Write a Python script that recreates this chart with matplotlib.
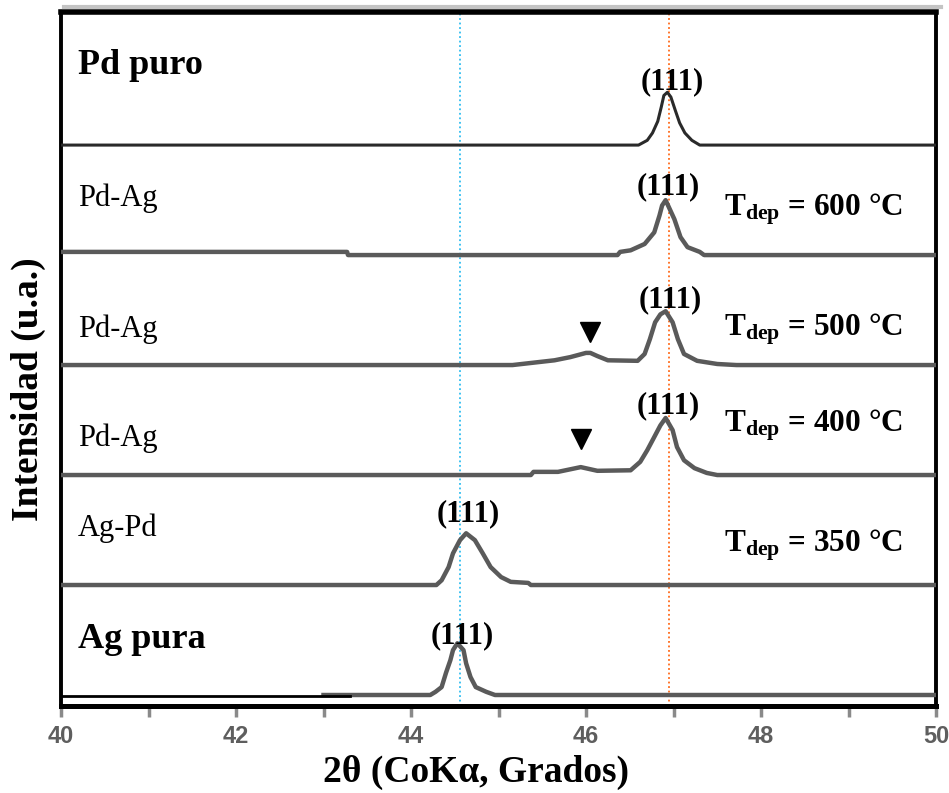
import matplotlib
matplotlib.use("Agg")
import matplotlib.pyplot as plt
from matplotlib.lines import Line2D

plt.rcParams['font.family'] = ['Liberation Serif', 'DejaVu Serif']
plt.rcParams['font.weight'] = 'bold'
plt.rcParams['mathtext.fontset'] = 'custom'
plt.rcParams['mathtext.rm'] = 'Liberation Serif'
plt.rcParams['mathtext.bf'] = 'Liberation Serif:bold'
plt.rcParams['mathtext.it'] = 'Liberation Serif:italic'

# --- XRD scans, 2theta (deg) vs intensity (a.u.) ---
pd_x = [40.0, 46.60, 46.70, 46.76, 46.82, 46.86, 46.89, 46.93, 46.97, 47.02, 47.07, 47.13, 47.21, 47.30, 50.0]
pd_y = [0, 0, 9, 23, 45, 72, 94, 100, 91, 66, 42, 23, 9, 0, 0]

pdag600_x = [40.0, 43.27, 43.28, 46.36, 46.39, 46.51, 46.67, 46.78, 46.84, 46.87, 46.91, 47.01, 47.08, 47.16, 47.30, 47.35, 50.0]
pdag600_y = [6, 6, 0, 0, 6, 9, 21, 43, 75, 94, 104, 68, 34, 15, 6, 0, 0]

pdag500_x = [40.0, 45.16, 45.64, 45.82, 46.00, 46.05, 46.13, 46.25, 46.59, 46.67, 46.73, 46.79, 46.85, 46.91, 46.99, 47.05, 47.12, 47.27, 47.50, 47.72, 50.0]
pdag500_y = [0, 0, 9, 15, 23, 23, 17, 9, 8, 21, 49, 81, 96, 102, 81, 49, 21, 8, 2, 0, 0]

pdag400_x = [40.0, 45.37, 45.40, 45.68, 45.94, 46.13, 46.51, 46.62, 46.70, 46.78, 46.85, 46.91, 46.99, 47.04, 47.12, 47.24, 47.38, 47.50, 50.0]
pdag400_y = [0, 0, 6, 6, 15, 8, 9, 25, 47, 72, 94, 108, 85, 53, 28, 13, 4, 0, 0]

agpd350_x = [40.0, 44.29, 44.35, 44.43, 44.48, 44.56, 44.63, 44.73, 44.82, 44.91, 45.03, 45.14, 45.34, 45.37, 50.0]
agpd350_y = [0, 0, 9, 34, 60, 85, 98, 85, 60, 34, 15, 6, 4, 0, 0]

ag_x = [43.0, 44.22, 44.28, 44.35, 44.40, 44.45, 44.48, 44.53, 44.60, 44.63, 44.68, 44.74, 44.86, 44.96, 50.0]
ag_y = [0, 0, 6, 15, 42, 66, 85, 98, 85, 60, 34, 15, 6, 0, 0]
ag_guide_x = [40.0, 43.3]

# secondary reflection marked with a triangle (2theta, intensity)
bump500 = (46.05, 23)
bump400 = (45.94, 15)

# reference positions of Ag(111) and Pd(111)
ag111_ref = 44.56
pd111_ref = 46.95

sample_labels = ['Ag pura', 'Ag-Pd', 'Pd-Ag', 'Pd-Ag', 'Pd-Ag', 'Pd puro']
temp_labels = ['350', '400', '500', '600']
x_major = [40, 42, 44, 46, 48, 50]
x_minor = [41, 43, 45, 47, 49]

scale = 0.0048  # panel units per a.u.

fig = plt.figure(figsize=(9.49, 7.93), dpi=100)
ax = fig.add_axes([61/949, 1 - 706/793, 875/949, 694/793])

# soft shadow along the top edge of the frame
fig.add_artist(Line2D([64/949, 941/949], [1 - 7/793, 1 - 7/793], color='#c4c4c4', lw=3.0))

curves = [(ag_x, ag_y), (agpd350_x, agpd350_y), (pdag400_x, pdag400_y),
          (pdag500_x, pdag500_y), (pdag600_x, pdag600_y), (pd_x, pd_y)]
for k, (xs, ys) in enumerate(curves):
    yy = [k + v * scale for v in ys]
    if k == 5:
        ax.plot(xs, yy, color='#2a2a2a', lw=2.2, solid_joinstyle='round', zorder=3)
    else:
        ax.plot(xs, yy, color='#5a5a5a', lw=3.2, solid_joinstyle='round', zorder=3)

ax.plot(ag_guide_x, [-0.012, -0.012], color='black', lw=2.0, zorder=4)

ax.axvline(ag111_ref, color='#2fbdf0', lw=1.3, ls=(0, (1, 1.5)), zorder=2)
ax.axvline(pd111_ref, color='#ff6a1a', lw=1.3, ls=(0, (1, 1.5)), zorder=2)

ax.plot([bump500[0]], [3 + bump500[1] * scale + 0.19], marker='v', ms=15, color='black', ls='none')
ax.plot([bump400[0]], [2 + bump400[1] * scale + 0.255], marker='v', ms=15, color='black', ls='none')

ax.set_xlim(40, 50)
ax.set_ylim(-0.1, 6.21)
ax.set_yticks([])
ax.set_xticks(x_major)
ax.set_xticks(x_minor, minor=True)
ax.tick_params(axis='x', which='both', direction='out', length=8, width=2.5,
               color='#8a8a8a', pad=6, labelsize=17, labelcolor='#5e5e5e',
               labelfontfamily='Liberation Sans')

for side, lw in (('left', 2.8), ('right', 2.8), ('top', 4.0), ('bottom', 3.6)):
    ax.spines[side].set_linewidth(lw)
    ax.spines[side].set_color('black')

# sample names
ax.text(40.19, 5.65, sample_labels[5], fontsize=26, fontweight='bold', ha='left', va='baseline')
ax.text(40.19, 4.445, sample_labels[4], fontsize=22, fontweight='normal', ha='left', va='baseline')
ax.text(40.19, 3.255, sample_labels[3], fontsize=22, fontweight='normal', ha='left', va='baseline')
ax.text(40.19, 2.264, sample_labels[2], fontsize=22, fontweight='normal', ha='left', va='baseline')
ax.text(40.19, 1.445, sample_labels[1], fontsize=22, fontweight='normal', ha='left', va='baseline')
ax.text(40.19, 0.427, sample_labels[0], fontsize=26, fontweight='bold', ha='left', va='baseline')

# (111) reflections
for (x, y) in [(46.98, 5.58), (46.94, 4.62), (46.96, 3.59), (46.94, 2.63), (44.65, 1.65), (44.58, 0.54)]:
    ax.text(x, y, '(111)', fontsize=22, fontweight='bold', ha='center', va='center')

# deposition temperatures
for t, y in zip(temp_labels, [1.309, 2.40, 3.273, 4.364]):
    ax.text(47.58, y, r'$\mathbf{T}_{\mathbf{dep}}$' + ' = ' + t + ' °C', fontsize=22.5,
            fontweight='bold', ha='left', va='baseline')

fig.text(28/949, 1 - 389/793, 'Intensidad (u.a.)', rotation=90, fontsize=27,
         fontweight='bold', ha='center', va='center')
fig.text(476/949, 1 - 772/793, '2θ (CoKα, Grados)', fontsize=27,
         fontweight='bold', ha='center', va='center')

fig.savefig('out.png', dpi=100)
